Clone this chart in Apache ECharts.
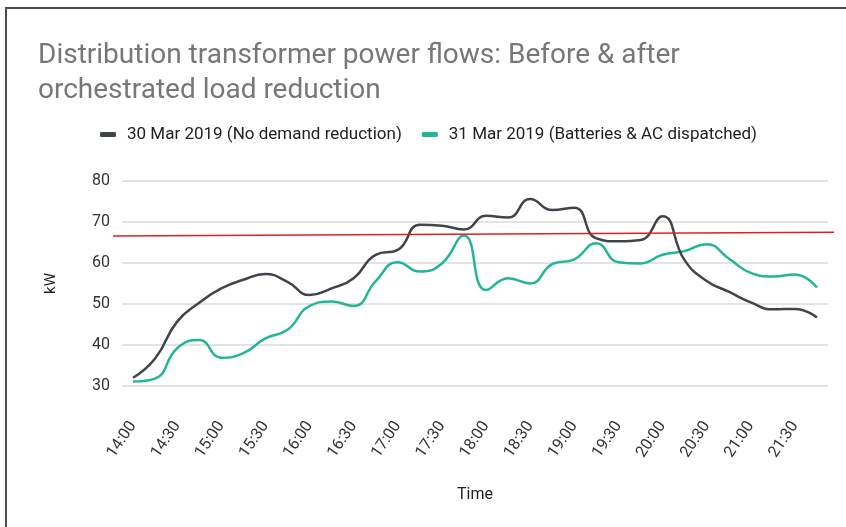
<!DOCTYPE html>
<html>
<head>
<meta charset="utf-8">
<title>Distribution transformer power flows</title>
<script src="https://cdn.jsdelivr.net/npm/echarts@6/dist/echarts.min.js"></script>
<style>
  html, body { margin: 0; padding: 0; background: #fff; }
  #chart { width: 846px; height: 527px; }
</style>
</head>
<body>
<div id="chart"></div>
<script>
// 15-minute readings, 14:00 to 21:45
const times = [
  "14:00", "14:15", "14:30", "14:45", "15:00", "15:15", "15:30", "15:45",
  "16:00", "16:15", "16:30", "16:45", "17:00", "17:15", "17:30", "17:45",
  "18:00", "18:15", "18:30", "18:45", "19:00", "19:15", "19:30", "19:45",
  "20:00", "20:15", "20:30", "20:45", "21:00", "21:15", "21:30", "21:45"
];

const noReduction = [
  32.0, 36.7, 45.7, 50.3, 53.8, 55.9, 57.3, 55.4,
  52.2, 53.8, 56.3, 62.0, 63.2, 69.3, 69.1, 68.2,
  71.5, 71.1, 75.6, 72.9, 73.5, 66.0, 65.3, 65.6,
  71.4, 60.7, 55.6, 53.0, 50.4, 48.7, 48.8, 46.7
];

const dispatched = [
  31.1, 31.8, 39.2, 41.2, 36.9, 38.0, 41.6, 43.7,
  49.5, 50.6, 49.5, 55.6, 60.2, 57.9, 59.9, 66.7,
  53.4, 56.3, 55.0, 59.7, 60.9, 64.8, 60.2, 59.9,
  62.0, 62.9, 64.6, 61.1, 57.6, 56.7, 57.2, 54.0
];

// hand-drawn limit line, value at its left and right ends
const limitLine = [66.6, 67.5];

const yTicks = { min: 30, max: 80, step: 10 };

const chart = echarts.init(document.getElementById("chart"));

const font = "Roboto, 'Noto Sans', sans-serif";

chart.setOption({
  animation: false,
  textStyle: { fontFamily: font },
  title: {
    text: "Distribution transformer power flows: Before & after\norchestrated load reduction",
    left: 33,
    top: 33,
    textStyle: {
      fontFamily: font,
      fontSize: 28,
      fontWeight: "normal",
      color: "#777",
      lineHeight: 35
    }
  },
  legend: {
    left: 95,
    top: 121,
    icon: "roundRect",
    itemWidth: 16,
    itemHeight: 5,
    itemGap: 20,
    textStyle: {
      fontFamily: font,
      fontSize: 17,
      color: "#222",
      padding: [0, 0, 0, 6]
    }
  },
  grid: { left: 122, right: 18, top: 181, bottom: 141 },
  xAxis: {
    type: "category",
    data: times,
    boundaryGap: true,
    name: "Time",
    nameLocation: "middle",
    nameGap: 101,
    nameTextStyle: { fontFamily: font, fontSize: 16, color: "#222" },
    axisLine: { show: false },
    axisTick: { show: false },
    axisLabel: {
      interval: 1,
      rotate: 56,
      margin: 37,
      fontSize: 16,
      color: "#333"
    }
  },
  yAxis: {
    type: "value",
    min: yTicks.min,
    max: yTicks.max,
    interval: yTicks.step,
    name: "kW",
    nameLocation: "middle",
    nameGap: 63,
    nameTextStyle: { fontFamily: font, fontSize: 15, color: "#222" },
    axisLabel: { fontSize: 16, color: "#333", margin: 12 },
    splitLine: { lineStyle: { color: "#dadada", width: 1.5 } }
  },
  series: [
    {
      name: "30 Mar 2019 (No demand reduction)",
      type: "line",
      data: noReduction,
      smooth: 0.5,
      symbol: "none",
      lineStyle: { color: "#3f454b", width: 2.5 },
      itemStyle: { color: "#3f454b" },
      z: 3,
      markLine: {
        silent: true,
        symbol: "none",
        label: { show: false },
        lineStyle: { color: "#e0201b", width: 1.5, type: "solid" },
        data: [[
          { x: 113, yAxis: limitLine[0] },
          { x: 834, yAxis: limitLine[1] }
        ]]
      }
    },
    {
      name: "31 Mar 2019 (Batteries & AC dispatched)",
      type: "line",
      data: dispatched,
      smooth: 0.5,
      symbol: "none",
      lineStyle: { color: "#21b697", width: 2.5 },
      itemStyle: { color: "#21b697" },
      z: 2
    }
  ],
  graphic: [
    {
      type: "polyline",
      silent: true,
      shape: { points: [[6, 527], [6, 8], [846, 8]] },
      style: { stroke: "#4a4e54", lineWidth: 2, fill: null }
    }
  ]
});
</script>
</body>
</html>
